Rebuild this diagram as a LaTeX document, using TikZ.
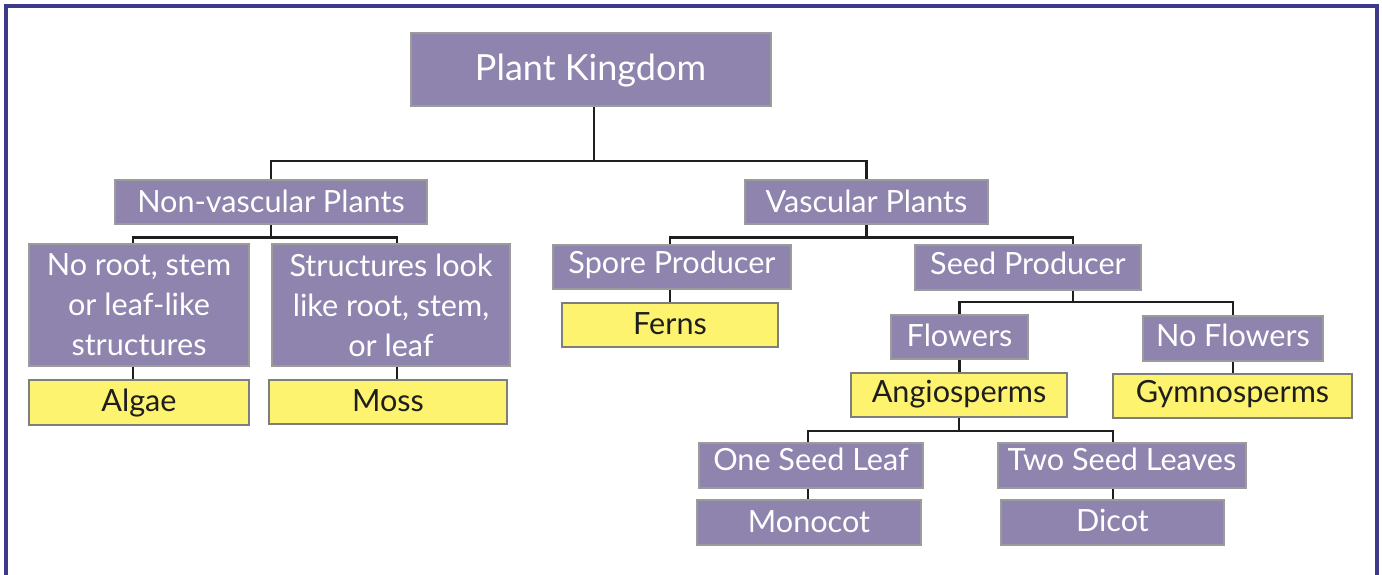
\documentclass[tikz,border=0pt]{standalone}
\usepackage{fontspec}
\setmainfont{Lato}
\usetikzlibrary{calc}
\definecolor{purp}{HTML}{8E84AE}
\definecolor{bgray}{HTML}{9B9B9B}
\definecolor{ygray}{HTML}{7E7E7E}
\definecolor{yel}{HTML}{FDF36E}
\definecolor{framec}{HTML}{3E3A8A}
\definecolor{ink}{HTML}{1E1E1E}
\begin{document}
\begin{tikzpicture}[x=0.5pt,y=-0.5pt,
  pbox/.style={draw=bgray, fill=purp, line width=1pt, text=white, inner sep=0pt,
    align=center, font=\fontsize{15.3}{20}\selectfont},
  ybox/.style={pbox, fill=yel, draw=ygray, text=ink},
  one/.style={text height=10.96pt, text depth=#1pt},
  wh/.style 2 args={minimum width=#1*0.5pt, minimum height=#2*0.5pt},
  conn/.style={draw=ink, line width=1.1pt}]
\useasboundingbox (0,0) rectangle (1382,574);
\fill[white] (0,0) rectangle (1382,574);
\draw[framec, line width=1.6pt] (6,580) -- (6,6) -- (1377,6) -- (1377,580);

% nodes
\node[pbox, wh={360}{73}, font=\fontsize{18}{22}\selectfont, text height=12.9pt, text depth=2pt] (pk) at (590.5,69.5) {Plant Kingdom};
\node[pbox, one=0, wh={312}{44}] (nv) at (271,202) {Non-vascular Plants};
\node[pbox, one=0, wh={243}{44}] (vp) at (866.5,202) {Vascular Plants};
\node[pbox, wh={220}{122}] (noroot) at (139,305) {No root, stem\\or leaf-like\\structures};
\node[pbox, wh={238}{122}] (struct) at (391,305) {Structures look\\like root, stem,\\or leaf};
\node[ybox, one=1.5, wh={220}{45}] (algae) at (139,402.5) {Algae};
\node[ybox, one=1.5, wh={238}{44}] (moss) at (388,402) {Moss};
\node[pbox, one=4.5, wh={238}{44}] (spore) at (672,267) {Spore Producer};
\node[ybox, one=1, wh={216}{44}] (ferns) at (670,325) {Ferns};
\node[pbox, one=3.5, wh={226}{45}] (seed) at (1028,267.5) {Seed Producer};
\node[pbox, one=1.5, wh={137}{44}] (flowers) at (959.5,337) {Flowers};
\node[pbox, one=2.5, wh={180}{45}] (nofl) at (1233,338.5) {No Flowers};
\node[ybox, one=3.3, wh={216}{44}] (angio) at (959,395) {Angiosperms};
\node[ybox, one=4.3, wh={239}{44}] (gymno) at (1232.5,396) {Gymnosperms};
\node[pbox, one=6, wh={224}{45}] (oneseed) at (811,465.5) {One Seed Leaf};
\node[pbox, one=1, wh={224}{45}] (monocot) at (809,522.5) {Monocot};
\node[pbox, one=5.5, wh={248}{45}] (twoseed) at (1122,465.5) {Two Seed Leaves};
\node[pbox, one=1.5, wh={223}{45}] (dicot) at (1112.5,522.5) {Dicot};

% junction levels and columns
\coordinate (y1) at (0,161);
\coordinate (y2) at (0,237.5);
\coordinate (y3) at (0,302);
\coordinate (y4) at (0,431);
\coordinate (xp) at (594,0);
\coordinate (xa) at (133,0);
\coordinate (xb) at (397,0);
\coordinate (xc) at (1073,0);
\coordinate (xd) at (808,0);
\coordinate (xe) at (1113,0);

% connectors
\draw[conn] (pk.south -| xp) -- (xp |- y1) -| (nv.north);
\draw[conn] (xp |- y1) -| (vp.north);
\draw[conn] (nv.south) -- (nv.south |- y2) -| (noroot.north -| xa);
\draw[conn] (nv.south |- y2) -| (struct.north -| xb);
\draw[conn] (noroot.south -| xa) -- (algae.north -| xa);
\draw[conn] (struct.south -| xb) -- (moss.north -| xb);
\draw[conn] (vp.south) -- (vp.south |- y2) -| (spore.north -| ferns.north);
\draw[conn] (vp.south |- y2) -| (seed.north -| xc);
\draw[conn] (spore.south -| ferns.north) -- (ferns.north);
\draw[conn] (seed.south -| xc) -- (xc |- y3) -| (flowers.north);
\draw[conn] (xc |- y3) -| (nofl.north);
\draw[conn] (flowers.south) -- (angio.north -| flowers.south);
\draw[conn] (nofl.south) -- (gymno.north -| nofl.south);
\draw[conn] (angio.south) -- (angio.south |- y4) -| (oneseed.north -| xd);
\draw[conn] (angio.south |- y4) -| (twoseed.north -| xe);
\draw[conn] (oneseed.south -| xd) -- (monocot.north -| xd);
\draw[conn] (twoseed.south -| xe) -- (dicot.north -| xe);
\end{tikzpicture}
\end{document}
